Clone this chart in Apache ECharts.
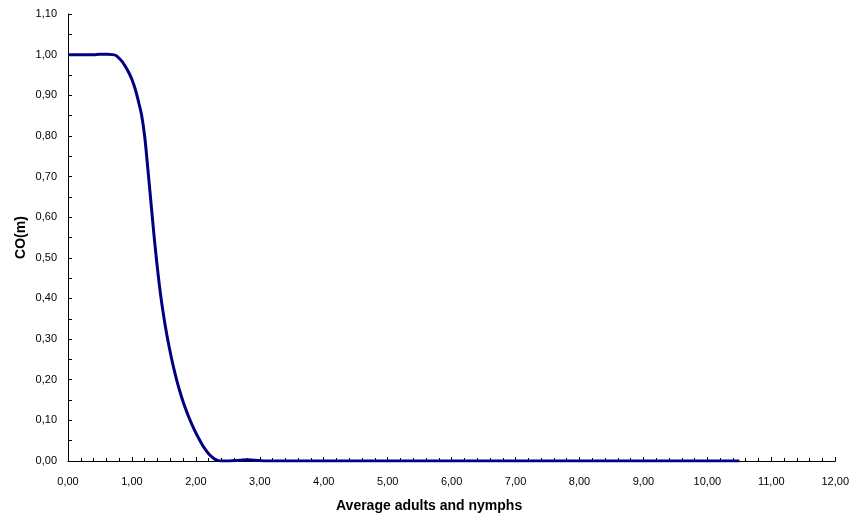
<!DOCTYPE html>
<html>
<head>
<meta charset="utf-8">
<script src="https://cdn.jsdelivr.net/npm/echarts@6/dist/echarts.min.js"></script>
<style>html,body{margin:0;padding:0;background:#fff}#c{width:852px;height:516px}</style>
</head>
<body>
<div id="c"></div>
<script>
var xValues = [0, 0.1, 0.2, 0.3, 0.4, 0.5, 0.6, 0.7, 0.75, 0.8, 0.85, 0.9, 0.95, 1.0, 1.05, 1.1, 1.15, 1.2, 1.25, 1.3, 1.35, 1.4, 1.45, 1.5, 1.55, 1.6, 1.65, 1.7, 1.75, 1.8, 1.85, 1.9, 1.95, 2.0, 2.05, 2.1, 2.15, 2.2, 2.25, 2.3, 2.35, 2.4, 2.5, 2.6, 2.7, 2.8, 2.9, 3.0, 3.2, 3.5, 4.0, 4.5, 5.0, 5.5, 6.0, 6.5, 7.0, 7.5, 8.0, 8.5, 9.0, 9.5, 10.0, 10.5];
var coValues = [1.000, 1.000, 1.000, 1.000, 1.000, 1.001, 1.001, 1.000, 0.998, 0.991, 0.982, 0.970, 0.956, 0.939, 0.916, 0.886, 0.852, 0.798, 0.717, 0.632, 0.548, 0.472, 0.407, 0.353, 0.307, 0.267, 0.231, 0.199, 0.171, 0.146, 0.124, 0.104, 0.086, 0.069, 0.054, 0.040, 0.028, 0.018, 0.010, 0.004, 0.001, 0.000, 0.000, 0.001, 0.002, 0.003, 0.002, 0.001, 0.000, 0.000, 0.000, 0.000, 0.000, 0.000, 0.000, 0.000, 0.000, 0.000, 0.000, 0.000, 0.000, 0.000, 0.000, 0.000];
var xAxisTitle = 'Average adults and nymphs';
var yAxisTitle = 'CO(m)';

function fmt(v) { return v.toFixed(2).replace('.', ','); }

var chart = echarts.init(document.getElementById('c'));
chart.setOption({
  animation: false,
  backgroundColor: '#fff',
  grid: { left: 68, right: 15, top: 14, bottom: 55, containLabel: false },
  xAxis: {
    type: 'value', min: 0, max: 12, interval: 1,
    axisLine: { show: true, onZero: false, lineStyle: { color: '#000', width: 1 } },
    axisTick: { show: true, inside: true, length: 4, lineStyle: { color: '#000' } },
    minorTick: { show: true, splitNumber: 5, length: 3, lineStyle: { color: '#000' } },
    splitLine: { show: false },
    axisLabel: { formatter: fmt, color: '#000', fontFamily: 'Liberation Sans', fontSize: 11, margin: 15 }
  },
  yAxis: {
    type: 'value', min: 0, max: 1.1, interval: 0.1,
    name: yAxisTitle, nameLocation: 'middle', nameGap: 40, nameMoveOverlap: false,
    nameTextStyle: { fontFamily: 'Liberation Sans', fontWeight: 'bold', fontSize: 14, color: '#000' },
    axisLine: { show: true, lineStyle: { color: '#000', width: 1 } },
    axisTick: { show: true, inside: true, length: 4, lineStyle: { color: '#000' } },
    minorTick: { show: true, splitNumber: 2, length: 4, lineStyle: { color: '#000' } },
    splitLine: { show: false },
    axisLabel: { formatter: fmt, color: '#000', fontFamily: 'Liberation Sans', fontSize: 11, margin: 11 }
  },
  graphic: [{
    type: 'text', left: 336, top: 499,
    style: { text: xAxisTitle, font: 'bold 14px "Liberation Sans"', fill: '#000' }
  }],
  series: [{
    type: 'line',
    data: xValues.map(function (x, i) { return [x, coValues[i]]; }),
    showSymbol: false,
    smooth: 0.3,
    lineStyle: { color: '#000080', width: 3 },
    itemStyle: { color: '#000080' }
  }]
});
</script>
</body>
</html>
